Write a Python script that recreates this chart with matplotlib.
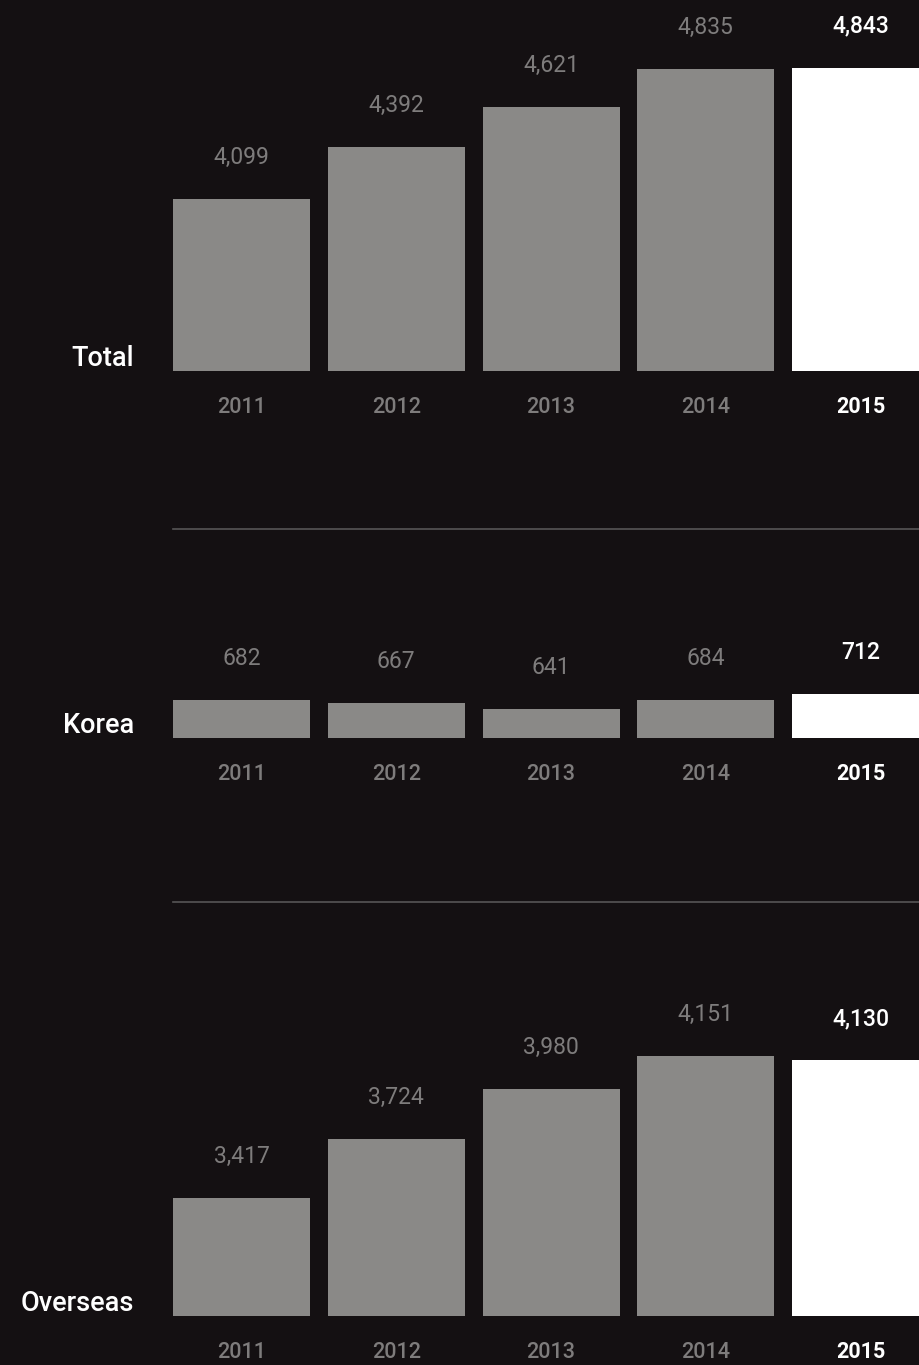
import matplotlib
matplotlib.use("Agg")
import matplotlib.pyplot as plt
from matplotlib.lines import Line2D

# ---- data -------------------------------------------------------------
years = ["2011", "2012", "2013", "2014", "2015"]
total = [4099, 4392, 4621, 4835, 4843]
korea = [682, 667, 641, 684, 712]
overseas = [3417, 3724, 3980, 4151, 4130]
row_labels = ["Total", "Korea", "Overseas"]

# ---- style ------------------------------------------------------------
BG = "#141012"
BAR = "#8a8987"
TXT_GREY = "#7e7c7c"
HILITE = "#ffffff"
RULE = "#575556"
FONT = ["Roboto", "DejaVu Sans"]

W, H = 919, 1365
fig = plt.figure(figsize=(W / 100, H / 100), dpi=100, facecolor=BG)

LEFT_PX = 173
SLOT_PX = 154.75
BAR_PX = 137


def panel(values, label, top_px, bottom_px, base, px_per_unit):
    ax = fig.add_axes([LEFT_PX / W, 1 - bottom_px / H,
                       1 - LEFT_PX / W, (bottom_px - top_px) / H])
    ax.set_facecolor(BG)
    for s in ax.spines.values():
        s.set_visible(False)
    ax.set_xticks([])
    ax.set_yticks([])

    x = list(range(len(values)))
    half = (BAR_PX / SLOT_PX) / 2
    ax.set_xlim(-half, (W - LEFT_PX) / SLOT_PX - half)
    ax.set_ylim(base, base + (bottom_px - top_px) / px_per_unit)

    colors = [BAR] * (len(values) - 1) + [HILITE]
    ax.bar(x, values, width=BAR_PX / SLOT_PX, bottom=0, color=colors,
           linewidth=0, clip_on=True)

    last = len(values) - 1
    for i, v in enumerate(values):
        hi = i == last
        # value label above bar
        ax.annotate(f"{v:,}", xy=(i, v), xytext=(0, 35),
                    textcoords="offset pixels", ha="center", va="baseline",
                    fontsize=16.5, family=FONT,
                    fontweight="medium" if hi else "normal",
                    color=HILITE if hi else TXT_GREY, annotation_clip=False)
        # year label under bar
        ax.annotate(years[i], xy=(i, base), xytext=(0, -42),
                    textcoords="offset pixels", ha="center", va="baseline",
                    fontsize=15.5, family=FONT,
                    fontweight="bold" if hi else "medium",
                    color=HILITE if hi else TXT_GREY, annotation_clip=False)

    # row title at the left, aligned to the bar baseline
    ax.annotate(label, xy=(0, 0), xycoords="axes fraction",
                xytext=(-39, 5), textcoords="offset pixels",
                ha="right", va="baseline", fontsize=19.5, family=FONT,
                fontweight="medium", color=HILITE, annotation_clip=False)
    return ax


panel(total, row_labels[0], 0, 371, 3125, 0.17663)
panel(korea, row_labels[1], 560, 738, 493.5, 0.2)
panel(overseas, row_labels[2], 930, 1316, 2807, 0.19346)

# horizontal dividers between the panels
for y_px in (529, 902):
    fig.add_artist(Line2D([LEFT_PX / W, 1], [1 - y_px / H] * 2,
                          transform=fig.transFigure, color=RULE, lw=1.2))

fig.savefig("out.png", dpi=100, facecolor=BG)
